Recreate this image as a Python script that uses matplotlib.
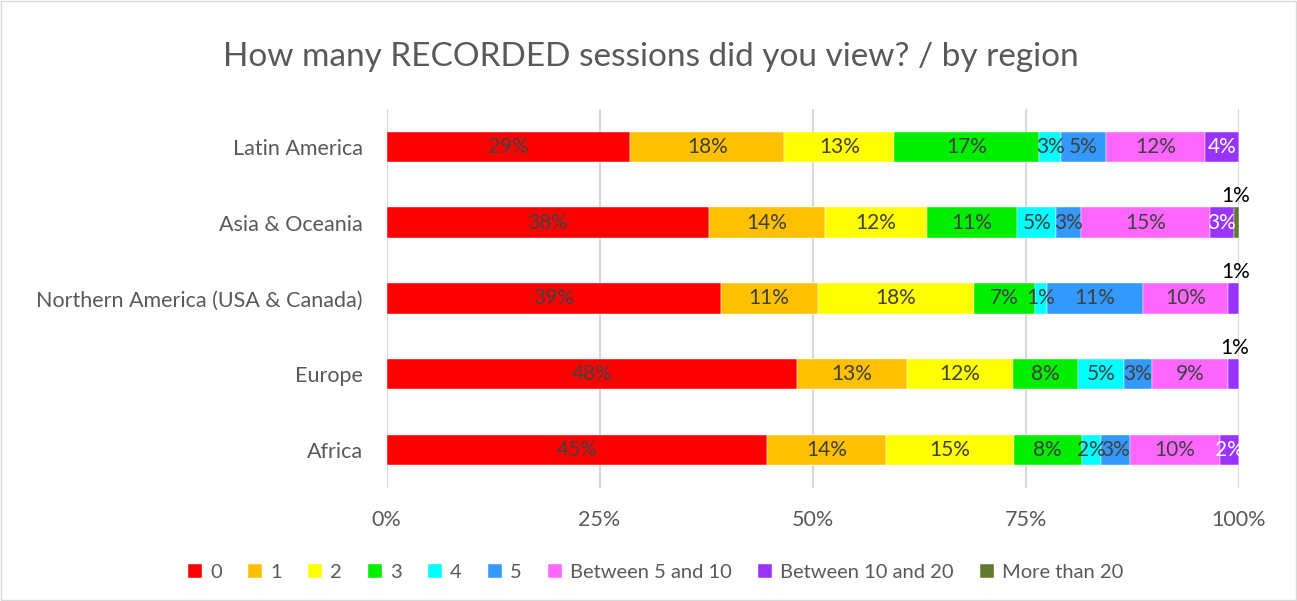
import matplotlib.pyplot as plt
import numpy as np
from matplotlib.patches import Rectangle

plt.rcParams['font.family'] = ['Lato', 'DejaVu Sans']

# regions (top to bottom in the chart)
regions = ["Latin America", "Asia & Oceania", "Northern America (USA & Canada)",
           "Europe", "Africa"]
series = ["0", "1", "2", "3", "4", "5", "Between 5 and 10",
          "Between 10 and 20", "More than 20"]
colors = ["#FF0000", "#FFC000", "#FFFF00", "#00EE00", "#00FFFF", "#3399FF",
          "#FF66FF", "#9933FF", "#637A2E"]

# share of respondents (%) per region, one list per answer
v0 = [28.6, 37.9, 39.2, 48.2, 44.7]
v1 = [18.1, 13.5, 11.4, 12.9, 13.9]
v2 = [12.9, 12.0, 18.4, 12.4, 15.0]
v3 = [17.0, 10.6, 7.1, 7.7, 8.0]
v4 = [2.6, 4.6, 1.4, 5.3, 2.3]
v5 = [5.2, 2.9, 11.3, 3.3, 3.4]
v5_10 = [11.7, 15.1, 10.0, 9.0, 10.5]
v10_20 = [3.9, 2.9, 1.3, 1.2, 2.2]
v20 = [0.0, 0.6, 0.0, 0.0, 0.0]
values = [v0, v1, v2, v3, v4, v5, v5_10, v10_20, v20]

fig = plt.figure(figsize=(12.97, 6.01), dpi=100)
ax = fig.add_axes([0.298, 0.188, 0.657, 0.631])

y = np.arange(len(regions))[::-1]
left = np.zeros(len(regions))
for k, (name, col, vals) in enumerate(zip(series, colors, values)):
    vals = np.array(vals)
    ax.barh(y, vals, left=left, height=0.4, color=col, label=name,
            edgecolor='white', linewidth=0.3, zorder=3)
    for i in range(len(regions)):
        v = vals[i]
        if v <= 0:
            continue
        txt = f"{round(v):d}%"
        cx = left[i] + v / 2
        if v < 1.5 and k >= 7 or k == 8:
            # tiny segments: label above the bar
            ax.text(left[i] + v - 0.5, y[i] + 0.22, txt, ha='center', va='bottom',
                    fontsize=15, color='black', zorder=4)
        else:
            tc = 'white' if k == 7 else '#404040'
            ax.text(cx, y[i], txt, ha='center', va='center', fontsize=15,
                    color=tc, zorder=4)
    left += vals

ax.set_xlim(0, 100)
ax.set_ylim(-0.5, len(regions) - 0.5)
ax.set_xticks([0, 25, 50, 75, 100])
ax.set_xticklabels(["0%", "25%", "50%", "75%", "100%"])
ax.set_yticks(y)
ax.set_yticklabels(regions)
ax.tick_params(axis='both', length=0, labelsize=15.5, colors='#595959')
ax.tick_params(axis='x', pad=16)
ax.tick_params(axis='y', pad=17)
ax.grid(axis='x', color='#D9D9D9', linewidth=1.5, zorder=0)
for s in ax.spines.values():
    s.set_visible(False)

fig.text(0.502, 0.905, "How many RECORDED sessions did you view? / by region",
         ha='center', va='center', fontsize=24, color='#595959')

ax.legend(loc='center', bbox_to_anchor=(0.316, -0.222), ncol=9, frameon=False,
          fontsize=14.5, labelcolor='#595959', handlelength=0.7, handleheight=0.7,
          handletextpad=0.4, columnspacing=1.3)

fig.patches.append(Rectangle((0.001, 0.001), 0.998, 0.998, transform=fig.transFigure,
                             fill=False, edgecolor='#D9D9D9', linewidth=1))

fig.savefig("out.png", dpi=100, facecolor='white')
